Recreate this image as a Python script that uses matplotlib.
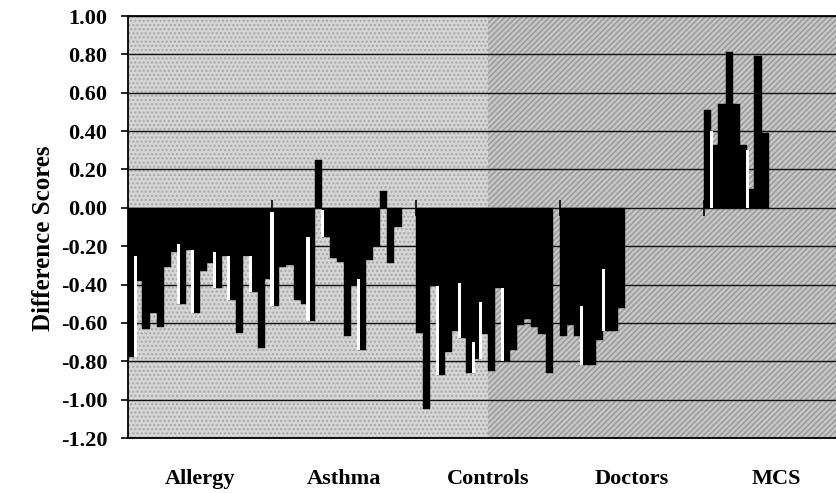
import matplotlib
matplotlib.use("Agg")
import matplotlib.pyplot as plt
import numpy as np
from matplotlib.patches import Rectangle

# difference scores per subject
groups = ["Allergy", "Asthma", "Controls", "Doctors", "MCS"]

allergy = [-0.78, -0.38, -0.63, -0.55, -0.62, -0.31, -0.23, -0.50, -0.22, -0.55,
           -0.33, -0.29, -0.42, -0.25, -0.48, -0.65, -0.25, -0.44, -0.73, -0.37]
asthma = [-0.51, -0.31, -0.30, -0.48, -0.50, -0.59, 0.25, -0.15, -0.26, -0.28,
          -0.67, -0.40, -0.74, -0.27, -0.20, 0.09, -0.29, -0.10]
controls = [-0.65, -1.05, -0.41, -0.87, -0.75, -0.64, -0.68, -0.86, -0.79, -0.66,
            -0.85, -0.42, -0.80, -0.74, -0.61, -0.58, -0.62, -0.66, -0.86]
doctors = [-0.67, -0.61, -0.67, -0.82, -0.82, -0.69, -0.64, -0.64, -0.52]
mcs = [0.51, 0.33, 0.54, 0.81, 0.54, 0.33, 0.10, 0.79, 0.39]

# thin white streaks between bars: (bar boundary, from, to)
allergy_white = [(1, -0.25, -0.78), (7, -0.19, -0.50), (9, -0.22, -0.55),
                 (12, -0.23, -0.42), (14, -0.25, -0.48), (17, -0.25, -0.44)]
asthma_white = [(0, -0.02, -0.51), (5, -0.15, -0.59), (7, -0.01, -0.15), (12, -0.37, -0.74)]
controls_white = [(3, -0.41, -0.87), (6, -0.39, -0.68), (8, -0.70, -0.86),
                  (9, -0.49, -0.79), (12, -0.42, -0.80)]
doctors_white = [(3, -0.51, -0.82), (6, -0.32, -0.64)]
mcs_white = [(1, 0.0, 0.40), (6, 0.0, 0.30)]

yticks = [-1.2, -1.0, -0.8, -0.6, -0.4, -0.2, 0.0, 0.2, 0.4, 0.6, 0.8, 1.0]

series = [allergy, asthma, controls, doctors, mcs]
whites = [allergy_white, asthma_white, controls_white, doctors_white, mcs_white]
slots = 20

serif = "Liberation Serif"

fig = plt.figure(figsize=(8.36, 4.93), dpi=100)
ax = fig.add_axes([128 / 836, 1 - 438 / 493, 720 / 836, 422 / 493])

# halftone-ish background
ax.add_patch(Rectangle((0, -1.2), 2.5, 2.2, facecolor="#d5d5d5", hatch="....",
                       edgecolor="#a6a6a6", lw=0, zorder=0))
ax.add_patch(Rectangle((2.5, -1.2), 2.5, 2.2, facecolor="#c6c6c6", hatch="//////",
                       edgecolor="#979797", lw=0, zorder=0))

for c, (vals, wl) in enumerate(zip(series, whites)):
    x = c + np.arange(len(vals)) / slots
    ax.bar(x, vals, width=1 / slots, align="edge", color="black",
           edgecolor="black", lw=0.3, zorder=2)
    for i, a, b in wl:
        ax.bar(c + i / slots, b - a, bottom=a, width=0.45 / slots, color="white",
               lw=0, zorder=3)

ax.set_xlim(0, 5)
ax.set_ylim(-1.2, 1.0)
ax.set_yticks(yticks)
ax.set_yticklabels([f"{v:.2f}" for v in yticks])
ax.yaxis.grid(True, color="#111111", lw=1.0)
ax.set_axisbelow(True)

ax.set_xticks(np.arange(5) + 0.5)
ax.set_xticklabels(groups)
ax.tick_params(axis="x", length=0, pad=22)
ax.tick_params(axis="y", direction="out", length=5, width=1.2, pad=10)
for lab in ax.get_xticklabels() + ax.get_yticklabels():
    lab.set_fontfamily(serif)
    lab.set_fontweight("bold")
    lab.set_fontsize(16)

ax.spines["right"].set_visible(False)
for s in ["left", "top", "bottom"]:
    ax.spines[s].set_linewidth(1.3)

# category tick marks crossing the zero line
sec = ax.secondary_xaxis(1.2 / 2.2)
sec.set_xticks([1, 2, 3, 4])
sec.tick_params(direction="inout", length=12, width=1.2, labelbottom=False, labeltop=False)
for s in sec.spines.values():
    s.set_visible(False)

fig.text(44 / 836, 1 - 238 / 493, "Difference Scores", rotation=90, ha="center",
         va="center", fontsize=18, fontweight="bold", family=serif)

fig.savefig("out.png", dpi=100)
